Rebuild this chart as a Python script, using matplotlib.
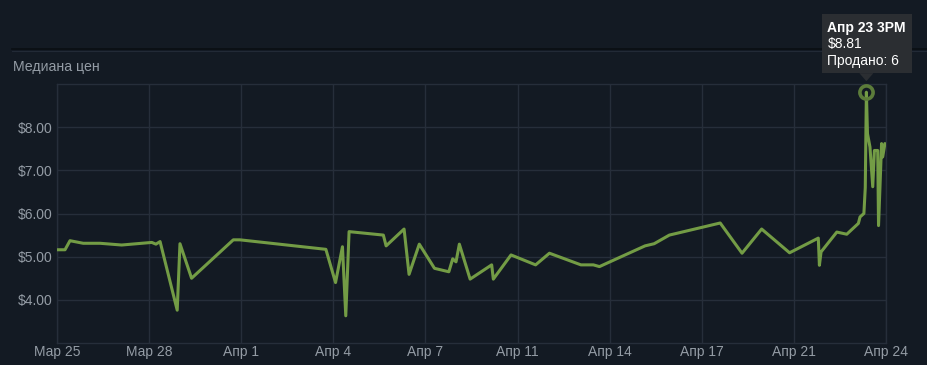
import numpy as np
import matplotlib
matplotlib.use('Agg')
import matplotlib.pyplot as plt
from matplotlib.patches import Rectangle, Polygon
from matplotlib.lines import Line2D
from matplotlib.transforms import IdentityTransform

plt.rcParams['font.family'] = ['Liberation Sans', 'DejaVu Sans']

# Days since Mar 25 08:00 (axis start)
day_offsets = [0.00, 0.29, 0.47, 0.95, 1.56, 2.34, 3.43, 3.58, 3.73, 4.35,
               4.45, 4.87, 6.38, 6.62, 9.73, 10.08, 10.33, 10.45, 10.57, 11.81,
               11.91, 12.56, 12.74, 13.11, 13.66, 14.18, 14.32, 14.44, 14.56, 14.95,
               15.73, 15.79, 16.43, 17.32, 17.82, 18.96, 19.41, 19.63, 21.28, 21.61,
               22.16, 24.00, 24.79, 25.50, 26.51, 27.55, 27.59, 27.65, 28.22, 28.58,
               29.00, 29.06, 29.20, 29.25, 29.29, 29.33, 29.42, 29.52, 29.58, 29.70,
               29.73, 29.84, 29.88, 29.96]
median_prices = [5.16, 5.16, 5.37, 5.31, 5.31, 5.27, 5.33, 5.29, 5.35, 3.76,
                 5.30, 4.50, 5.39, 5.39, 5.17, 4.40, 5.23, 3.63, 5.58, 5.50,
                 5.25, 5.64, 4.59, 5.29, 4.73, 4.65, 4.95, 4.88, 5.29, 4.48,
                 4.81, 4.48, 5.04, 4.81, 5.08, 4.81, 4.81, 4.77, 5.25, 5.30,
                 5.50, 5.78, 5.08, 5.64, 5.09, 5.43, 4.80, 5.11, 5.57, 5.52,
                 5.77, 5.92, 6.00, 6.60, 8.81, 7.85, 7.54, 6.62, 7.46, 7.46,
                 5.72, 7.62, 7.31, 7.62]
x_tick_labels = ['Мар 25', 'Мар 28', 'Апр 1', 'Апр 4', 'Апр 7',
                 'Апр 11', 'Апр 14', 'Апр 17', 'Апр 21', 'Апр 24']
y_ticks = [4, 5, 6, 7, 8]
y_tick_labels = ['$4.00', '$5.00', '$6.00', '$7.00', '$8.00']
chart_title = 'Медиана цен'
tooltip_date = 'Апр 23 3PM'
tooltip_price = '$8.81'
tooltip_sold = 'Продано: 6'

BG = '#131a23'
GRID = '#262e3a'
LABEL = '#949ca5'
LINE = '#739c45'

W, H = 928, 365
fig = plt.figure(figsize=(W / 100, H / 100), dpi=100, facecolor=BG)
ax = fig.add_axes([57 / W, 22 / H, 829 / W, 259 / H])
ax.set_facecolor(BG)

ax.plot(day_offsets, median_prices, color=LINE, lw=2.2,
        solid_joinstyle='round', solid_capstyle='round', zorder=3)

peak_i = int(np.argmax(median_prices))
ax.plot([day_offsets[peak_i]], [median_prices[peak_i]], marker='o', ms=9.5,
        mfc='none', mec='#5c7c3a', mew=2.6, zorder=4)

ax.set_xlim(0, 30)
ax.set_ylim(3, 9)
ax.set_xticks(np.linspace(0, 30, len(x_tick_labels)))
ax.set_xticklabels(x_tick_labels)
ax.set_yticks(y_ticks)
ax.set_yticklabels(y_tick_labels)
ax.grid(color=GRID, lw=1, zorder=0)
ax.set_axisbelow(True)
for s in ax.spines.values():
    s.set_color(GRID)
    s.set_linewidth(1)
ax.tick_params(axis='both', length=0, colors=LABEL, labelsize=10)
ax.tick_params(axis='x', pad=1.5)
ax.tick_params(axis='y', pad=3.5)

# Header text and separator
fig.text(13 / W, 1 - 67 / H, chart_title, color=LABEL, fontsize=10.2,
         va='center', ha='left')
fig.add_artist(Line2D([12 / W, 1], [1 - 48.5 / H] * 2, color='#0a0e13', lw=1.2))
fig.add_artist(Line2D([12 / W, 1], [1 - 50.5 / H] * 2, color='#222a36', lw=0.8))

# Tooltip
px, py = ax.transData.transform((day_offsets[peak_i], median_prices[peak_i]))
tip_bg = '#2b2e32'
ident = IdentityTransform()
fig.add_artist(Rectangle((px - 44, py + 19), 90, 59, facecolor=tip_bg,
                         edgecolor='none', transform=ident, zorder=10))
fig.add_artist(Polygon([(px - 7, py + 19), (px + 7, py + 19), (px, py + 11)],
                       closed=True, facecolor=tip_bg, edgecolor='none',
                       transform=ident, zorder=10))
fig.text(px - 39, py + 64, tooltip_date, color='white', fontsize=10,
         fontweight='bold', va='center', ha='left', transform=ident, zorder=11)
fig.text(px - 39, py + 48, tooltip_price, color='white', fontsize=10,
         va='center', ha='left', transform=ident, zorder=11)
fig.text(px - 39, py + 31, tooltip_sold, color='white', fontsize=10,
         va='center', ha='left', transform=ident, zorder=11)

fig.savefig('out.png', dpi=100, facecolor=BG)
